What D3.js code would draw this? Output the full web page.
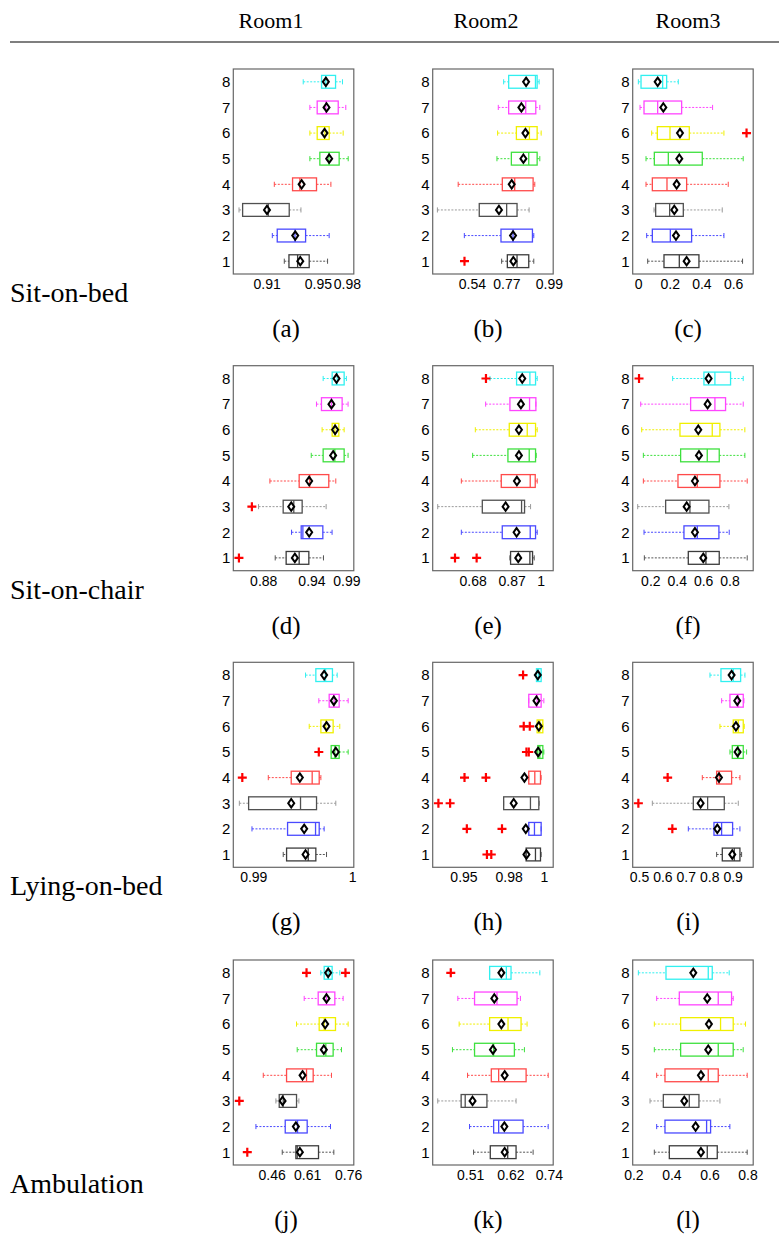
<!DOCTYPE html>
<html>
<head>
<meta charset="utf-8">
<script src="https://cdn.jsdelivr.net/npm/d3@7"></script>
<style>
  body { margin: 0; background: #fff; }
  .tick text { font-family: "Liberation Sans", Arial, sans-serif; fill: #000; }
  .serif { font-family: "Liberation Serif", "Times New Roman", serif; fill: #000; }
</style>
</head>
<body>
<svg id="chart" width="779" height="1241"></svg>
<script>
const rooms = ["Room1", "Room2", "Room3"];
const activities = ["Sit-on-bed", "Sit-on-chair", "Lying-on-bed", "Ambulation"];
const panelTags = ["(a)", "(b)", "(c)", "(d)", "(e)", "(f)", "(g)", "(h)", "(i)", "(j)", "(k)", "(l)"];
const boxIds = [1, 2, 3, 4, 5, 6, 7, 8];

// each row: [low whisker, q1, median, q3, high whisker, mean], boxes 1..8
const statsA = [
    [0.9233, 0.9268, 0.9333, 0.9420, 0.9558, 0.9353],
    [0.9143, 0.9180, 0.9313, 0.9393, 0.9570, 0.9315],
    [0.8893, 0.8920, 0.9113, 0.9270, 0.9358, 0.9103],
    [0.9158, 0.9295, 0.9350, 0.9475, 0.9583, 0.9363],
    [0.9425, 0.9500, 0.9568, 0.9645, 0.9713, 0.9570],
    [0.9425, 0.9480, 0.9538, 0.9570, 0.9675, 0.9535],
    [0.9425, 0.9480, 0.9545, 0.9638, 0.9695, 0.9550],
    [0.9375, 0.9513, 0.9545, 0.9618, 0.9670, 0.9545]
];
const statsB = [
    [0.7457, 0.7752, 0.8254, 0.8860, 0.9121, 0.8063],
    [0.5527, 0.7423, 0.8046, 0.9051, 0.9121, 0.8046],
    [0.4133, 0.6299, 0.7717, 0.8254, 0.8878, 0.7319],
    [0.5208, 0.7492, 0.8133, 0.9086, 0.9172, 0.7977],
    [0.7214, 0.7960, 0.8860, 0.9294, 0.9432, 0.8583],
    [0.7249, 0.8220, 0.8895, 0.9294, 0.9502, 0.8687],
    [0.7284, 0.7821, 0.8704, 0.9224, 0.9432, 0.8479],
    [0.7561, 0.7821, 0.9207, 0.9294, 0.9398, 0.8722]
];
const statsC = [
    [0.0609, 0.1638, 0.2604, 0.3843, 0.6594, 0.3066],
    [0.0546, 0.0903, 0.2037, 0.3381, 0.5418, 0.2394],
    [0.1008, 0.1113, 0.1995, 0.2856, 0.5313, 0.2289],
    [0.0504, 0.0903, 0.1827, 0.3066, 0.5691, 0.2436],
    [0.0504, 0.1029, 0.1911, 0.4053, 0.6636, 0.2604],
    [0.0861, 0.1218, 0.2016, 0.3234, 0.5418, 0.2646],
    [0.0126, 0.0378, 0.1239, 0.2751, 0.4704, 0.1596],
    [0.0021, 0.0189, 0.1554, 0.1806, 0.2541, 0.1239]
];
const statsD = [
    [0.8949, 0.9085, 0.9247, 0.9367, 0.9549, 0.9193],
    [0.9152, 0.9272, 0.9293, 0.9541, 0.9656, 0.9371],
    [0.8742, 0.9048, 0.9180, 0.9284, 0.9582, 0.9148],
    [0.8883, 0.9247, 0.9379, 0.9615, 0.9702, 0.9371],
    [0.9397, 0.9545, 0.9690, 0.9806, 0.9855, 0.9669],
    [0.9532, 0.9657, 0.9690, 0.9740, 0.9806, 0.9694],
    [0.9462, 0.9524, 0.9648, 0.9781, 0.9855, 0.9648],
    [0.9545, 0.9657, 0.9720, 0.9806, 0.9834, 0.9711]
];
const statsE = [
    [0.8557, 0.8588, 0.9498, 0.9624, 0.9703, 0.8949],
    [0.6267, 0.8196, 0.9514, 0.9765, 0.9844, 0.8871],
    [0.5153, 0.7255, 0.9106, 0.9247, 0.9530, 0.8353],
    [0.6267, 0.8149, 0.9514, 0.9750, 0.9844, 0.8887],
    [0.6800, 0.8463, 0.9467, 0.9765, 0.9797, 0.8981],
    [0.6926, 0.8526, 0.9373, 0.9765, 0.9844, 0.8981],
    [0.7412, 0.8557, 0.9483, 0.9781, 0.9781, 0.9075],
    [0.7616, 0.8871, 0.9499, 0.9765, 0.9844, 0.9138]
];
const statsF = [
    [0.1546, 0.4874, 0.6210, 0.7218, 0.9336, 0.6008],
    [0.1521, 0.4546, 0.5555, 0.7193, 0.7974, 0.5378],
    [0.1042, 0.3159, 0.4999, 0.6437, 0.7949, 0.4748],
    [0.1471, 0.4092, 0.5555, 0.7269, 0.9336, 0.5378],
    [0.1471, 0.4294, 0.6310, 0.7218, 0.9159, 0.5681],
    [0.1345, 0.4244, 0.6689, 0.7269, 0.9159, 0.5631],
    [0.1269, 0.5051, 0.6890, 0.7697, 0.9033, 0.6336],
    [0.3689, 0.6058, 0.6890, 0.8075, 0.9033, 0.6412]
];
const statsG = [
    [0.99303, 0.99337, 0.99556, 0.99633, 0.99741, 0.99529],
    [0.98987, 0.99347, 0.99630, 0.99667, 0.99717, 0.99515],
    [0.98859, 0.98953, 0.99478, 0.99640, 0.99835, 0.99384],
    [0.99152, 0.99384, 0.99596, 0.99667, 0.99684, 0.99471],
    [0.99788, 0.99788, 0.99825, 0.99869, 0.99960, 0.99835],
    [0.99566, 0.99684, 0.99734, 0.99808, 0.99875, 0.99741],
    [0.99663, 0.99768, 0.99818, 0.99869, 0.99960, 0.99815],
    [0.99529, 0.99633, 0.99731, 0.99801, 0.99849, 0.99717]
];
const statsH = [
    [0.98896, 0.98896, 0.99479, 0.99792, 0.99833, 0.98917],
    [0.99000, 0.99063, 0.99417, 0.99833, 0.99833, 0.98875],
    [0.97500, 0.97500, 0.99167, 0.99688, 0.99729, 0.98125],
    [0.99063, 0.99063, 0.99438, 0.99792, 0.99833, 0.98792],
    [0.99583, 0.99625, 0.99750, 0.99938, 1.00000, 0.99646],
    [0.99583, 0.99583, 0.99750, 0.99938, 0.99938, 0.99688],
    [0.99063, 0.99063, 0.99583, 0.99833, 1.00000, 0.99542],
    [0.99521, 0.99542, 0.99667, 0.99833, 0.99833, 0.99625]
];
const statsI = [
    [0.8317, 0.8559, 0.9071, 0.9313, 0.9384, 0.8986],
    [0.7107, 0.8203, 0.8530, 0.9000, 0.9313, 0.8345],
    [0.5569, 0.7320, 0.7932, 0.8644, 0.9242, 0.7633],
    [0.7705, 0.8317, 0.8431, 0.8957, 0.9313, 0.8416],
    [0.8886, 0.8986, 0.9242, 0.9455, 0.9598, 0.9213],
    [0.8459, 0.9028, 0.9242, 0.9455, 0.9498, 0.9142],
    [0.8530, 0.8886, 0.9242, 0.9455, 0.9484, 0.9199],
    [0.8032, 0.8502, 0.9028, 0.9342, 0.9527, 0.8957]
];
const statsJ = [
    [0.5049, 0.5623, 0.5679, 0.6577, 0.7222, 0.5792],
    [0.3941, 0.5175, 0.5693, 0.6100, 0.7081, 0.5623],
    [0.4782, 0.4922, 0.5091, 0.5651, 0.5750, 0.5063],
    [0.4250, 0.5231, 0.6072, 0.6352, 0.7123, 0.5904],
    [0.5679, 0.6493, 0.6885, 0.7193, 0.7544, 0.6801],
    [0.5651, 0.6605, 0.6815, 0.7292, 0.7824, 0.6857],
    [0.5974, 0.6563, 0.6913, 0.7264, 0.7614, 0.6913],
    [0.6675, 0.6815, 0.6983, 0.7151, 0.7474, 0.6983]
];
const statsK = [
    [0.5192, 0.5650, 0.6127, 0.6356, 0.6823, 0.6044],
    [0.5082, 0.5742, 0.5879, 0.6548, 0.7236, 0.6035],
    [0.4211, 0.4852, 0.4963, 0.5558, 0.6356, 0.5164],
    [0.5027, 0.5678, 0.5879, 0.6631, 0.7236, 0.6044],
    [0.4614, 0.5219, 0.5742, 0.6310, 0.6585, 0.5723],
    [0.4797, 0.5632, 0.6136, 0.6493, 0.6658, 0.5953],
    [0.4761, 0.5219, 0.5833, 0.6383, 0.6475, 0.5760],
    [0.5632, 0.5632, 0.6090, 0.6218, 0.7007, 0.5953]
];
const statsL = [
    [0.3102, 0.3890, 0.5885, 0.6410, 0.7984, 0.5552],
    [0.3225, 0.3662, 0.5850, 0.6060, 0.7074, 0.5272],
    [0.2875, 0.3575, 0.4940, 0.5447, 0.6550, 0.4677],
    [0.3225, 0.3662, 0.5937, 0.6462, 0.7984, 0.5552],
    [0.3102, 0.4485, 0.6462, 0.7249, 0.7774, 0.5937],
    [0.3102, 0.4485, 0.6584, 0.7249, 0.7897, 0.5972],
    [0.3225, 0.4415, 0.6462, 0.7162, 0.7249, 0.5885],
    [0.2262, 0.3715, 0.5937, 0.6147, 0.7039, 0.5150]
];

// outliers: [box, value]
const outliersA = [];
const outliersB = [[1, 0.5535]];
const outliersC = [[6, 0.6846]];
const outliersD = [[1, 0.8498], [3, 0.8659]];
const outliersE = [[1, 0.5968], [1, 0.6988], [8, 0.7428]];
const outliersF = [[8, 0.1143]];
const outliersG = [[4, 0.98889], [5, 0.99663]];
const outliersH = [[1, 0.96458], [1, 0.96729], [2, 0.95208], [2, 0.97396], [3, 0.93438], [3, 0.94167],
    [4, 0.95063], [4, 0.96396], [5, 0.98917], [5, 0.99063], [6, 0.98750], [6, 0.99125], [8, 0.98708]];
const outliersI = [[2, 0.6424], [3, 0.4972], [4, 0.6224]];
const outliersJ = [[1, 0.3577], [3, 0.3240], [8, 0.6072], [8, 0.7712]];
const outliersK = [[8, 0.4568]];
const outliersL = [];

// x limits, tick positions and their (rounded) labels per panel
const xDomains = [
    [0.885, 0.9755], [0.389, 1.0125], [-0.0336, 0.7266],
    [0.8428, 0.9926], [0.4917, 1.0597], [0.0664, 0.979],
    [0.98798, 1.00017], [0.93083, 1.00583], [0.473, 0.988],
    [0.2988, 0.8063], [0.4073, 0.7373], [0.1965, 0.83]
];
const xTicks = [
    [0.91, 0.9485, 0.9703], [0.5916, 0.77, 0.99], [0, 0.2, 0.4, 0.6],
    [0.88, 0.94, 0.9834], [0.68, 0.8636, 1.0], [0.2, 0.4, 0.6, 0.8],
    [0.99, 1.0], [0.95, 0.978125, 1.0], [0.5, 0.6, 0.7, 0.8, 0.9],
    [0.46, 0.61, 0.7824], [0.51, 0.62, 0.7254], [0.2, 0.4, 0.6, 0.8]
];
const xTickLabels = [
    ["0.91", "0.95", "0.98"], ["0.54", "0.77", "0.99"], ["0", "0.2", "0.4", "0.6"],
    ["0.88", "0.94", "0.99"], ["0.68", "0.87", "1"], ["0.2", "0.4", "0.6", "0.8"],
    ["0.99", "1"], ["0.95", "0.98", "1"], ["0.5", "0.6", "0.7", "0.8", "0.9"],
    ["0.46", "0.61", "0.76"], ["0.51", "0.62", "0.74"], ["0.2", "0.4", "0.6", "0.8"]
];

const allStats = [statsA, statsB, statsC, statsD, statsE, statsF, statsG, statsH, statsI, statsJ, statsK, statsL];
const allOutliers = [outliersA, outliersB, outliersC, outliersD, outliersE, outliersF,
    outliersG, outliersH, outliersI, outliersJ, outliersK, outliersL];

// layout
const colX = [233.3, 432.7, 632.7];
const rowY = [69, 365.7, 662.3, 960];
const W = 120.5, H = 205;
const headerX = [271, 486, 688];
const tagX = [286, 488, 688];

const boxColor = d3.scaleOrdinal().domain(boxIds)
    .range(["#3c3c3c", "#4a4aff", "#505050", "#ff4a4a", "#3ee03e", "#f0f000", "#ff45ff", "#30f0f0"]);
const whiskerColor = d3.scaleOrdinal().domain(boxIds)
    .range(["#555", "#4a4aff", "#9a9a9a", "#ff4a4a", "#3ee03e", "#f0f000", "#ff45ff", "#30f0f0"]);

const svg = d3.select("#chart");

// header
svg.selectAll(".room").data(rooms).enter().append("text")
    .attr("class", "serif")
    .attr("x", (d, i) => headerX[i]).attr("y", 28)
    .attr("text-anchor", "middle").style("font-size", "22px")
    .text(d => d);
svg.append("line").attr("x1", 10).attr("x2", 779).attr("y1", 42).attr("y2", 42)
    .attr("stroke", "#000").attr("stroke-width", 1.2);

// row labels
svg.selectAll(".activity").data(activities).enter().append("text")
    .attr("class", "serif")
    .attr("x", 10).attr("y", (d, i) => rowY[i] + 233)
    .style("font-size", "28px")
    .text(d => d);

allStats.forEach((stats, k) => {
    const r = Math.floor(k / 3), c = k % 3;
    const g = svg.append("g").attr("transform", `translate(${colX[c]},${rowY[r]})`);

    const x = d3.scaleLinear().domain(xDomains[k]).range([0, W]);
    const y = d3.scaleLinear().domain([0.5, 8.5]).range([H, 0]);
    const half = (y(1) - y(1.25));
    const cap = (y(1) - y(1.1));

    const boxes = stats.map((s, i) => ({ id: boxIds[i], lo: s[0], q1: s[1], med: s[2], q3: s[3], hi: s[4], mean: s[5] }));

    // whiskers
    const wg = g.selectAll(".whisk").data(boxes).enter().append("g")
        .attr("stroke", d => whiskerColor(d.id)).attr("stroke-width", 1);
    wg.append("line")
        .attr("x1", d => x(d.lo)).attr("x2", d => x(d.q1))
        .attr("y1", d => y(d.id)).attr("y2", d => y(d.id))
        .attr("stroke-dasharray", "2,1.5");
    wg.append("line")
        .attr("x1", d => x(d.q3)).attr("x2", d => x(d.hi))
        .attr("y1", d => y(d.id)).attr("y2", d => y(d.id))
        .attr("stroke-dasharray", "2,1.5");
    wg.append("line")
        .attr("x1", d => x(d.lo)).attr("x2", d => x(d.lo))
        .attr("y1", d => y(d.id) - cap).attr("y2", d => y(d.id) + cap);
    wg.append("line")
        .attr("x1", d => x(d.hi)).attr("x2", d => x(d.hi))
        .attr("y1", d => y(d.id) - cap).attr("y2", d => y(d.id) + cap);

    // boxes and medians
    g.selectAll(".box").data(boxes).enter().append("rect")
        .attr("x", d => x(d.q1)).attr("width", d => Math.max(0.5, x(d.q3) - x(d.q1)))
        .attr("y", d => y(d.id) - half).attr("height", 2 * half)
        .attr("fill", "none").attr("stroke", d => boxColor(d.id)).attr("stroke-width", 1.3);
    g.selectAll(".med").data(boxes).enter().append("line")
        .attr("x1", d => x(d.med)).attr("x2", d => x(d.med))
        .attr("y1", d => y(d.id) - half).attr("y2", d => y(d.id) + half)
        .attr("stroke", d => boxColor(d.id)).attr("stroke-width", 1.3);

    // outliers
    g.selectAll(".out").data(allOutliers[k]).enter().append("path")
        .attr("transform", d => `translate(${x(d[1])},${y(d[0])})`)
        .attr("d", "M-4.5,0H4.5M0,-4.5V4.5")
        .attr("stroke", "#f00").attr("stroke-width", 2.2).attr("fill", "none");

    // means
    g.selectAll(".mean").data(boxes).enter().append("path")
        .attr("transform", d => `translate(${x(d.mean)},${y(d.id)})`)
        .attr("d", "M0,-4.2L3,0L0,4.2L-3,0Z")
        .attr("fill", "none").attr("stroke", "#000").attr("stroke-width", 2);

    // axes
    const labels = xTickLabels[k];
    g.append("g").attr("transform", `translate(0,${H})`)
        .call(d3.axisBottom(x).tickValues(xTicks[k]).tickSize(0).tickPadding(5)
            .tickFormat((d, i) => labels[i]))
        .call(a => a.select(".domain").remove())
        .selectAll("text").style("font-size", "14px");
    g.append("g")
        .call(d3.axisLeft(y).tickValues(boxIds).tickSize(0).tickPadding(3).tickFormat(d3.format("d")))
        .call(a => a.select(".domain").remove())
        .selectAll("text").style("font-size", "15px");

    // frame
    g.append("rect").attr("width", W).attr("height", H)
        .attr("fill", "none").attr("stroke", "#666").attr("stroke-width", 1.2);

    // sub caption
    svg.append("text").attr("class", "serif")
        .attr("x", tagX[c]).attr("y", rowY[r] + 268)
        .attr("text-anchor", "middle").style("font-size", "25px")
        .text(panelTags[k]);
});
</script>
</body>
</html>
